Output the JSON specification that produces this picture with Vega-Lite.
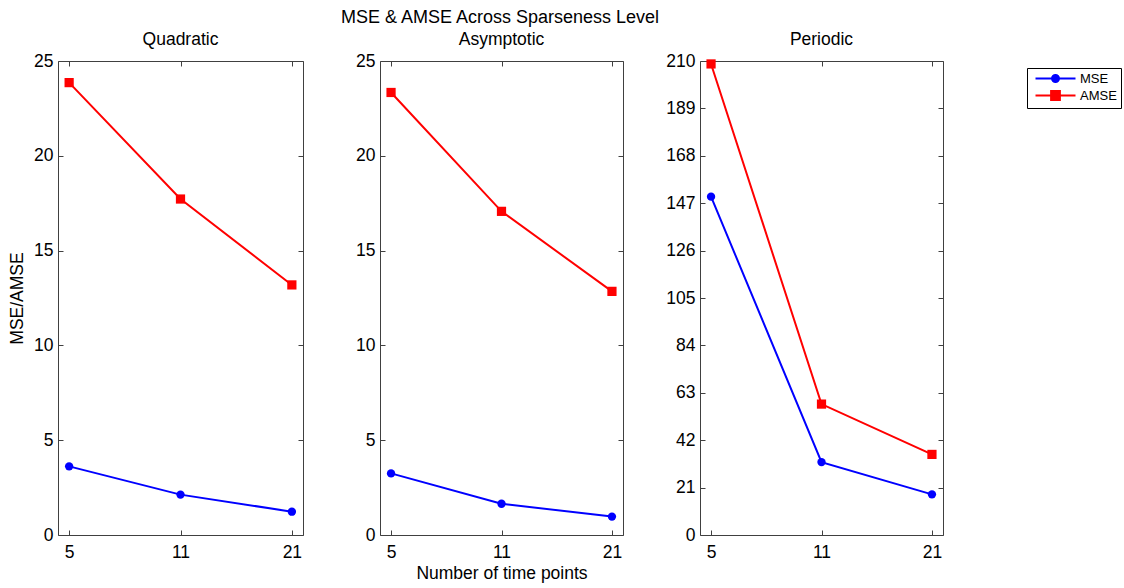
{
  "$schema": "https://vega.github.io/schema/vega-lite/v6.json",
  "padding": {"left": 8, "top": 8, "right": 2, "bottom": 4},
  "background": "white",
  "config": {
    "font": "Liberation Sans",
    "view": {"stroke": null},
    "axis": {
      "grid": false,
      "minExtent": 0,
      "maxExtent": 200,
      "domainColor": "#404040",
      "tickColor": "#404040",
      "domainWidth": 1,
      "tickWidth": 1,
      "tickSize": -5,
      "labelFont": "Liberation Sans",
      "labelFontSize": 17.5,
      "labelColor": "#000",
      "titleFont": "Liberation Sans",
      "titleFontSize": 17.5,
      "titleFontWeight": "normal",
      "titleColor": "#000"
    },
    "title": {"font": "Liberation Sans", "fontWeight": "normal", "color": "#000"}
  },
  "title": {
    "text": "MSE & AMSE Across Sparseness Level",
    "fontSize": 18,
    "anchor": "middle",
    "frame": "group",
    "dx": 442,
    "offset": 4
  },
  "datasets": {
    "errors": [
      {"model": "Quadratic", "points": 5, "series": "MSE", "value": 3.62},
      {"model": "Quadratic", "points": 11, "series": "MSE", "value": 2.13},
      {"model": "Quadratic", "points": 21, "series": "MSE", "value": 1.23},
      {"model": "Quadratic", "points": 5, "series": "AMSE", "value": 23.86},
      {"model": "Quadratic", "points": 11, "series": "AMSE", "value": 17.72},
      {"model": "Quadratic", "points": 21, "series": "AMSE", "value": 13.19},
      {"model": "Asymptotic", "points": 5, "series": "MSE", "value": 3.25},
      {"model": "Asymptotic", "points": 11, "series": "MSE", "value": 1.65},
      {"model": "Asymptotic", "points": 21, "series": "MSE", "value": 0.97},
      {"model": "Asymptotic", "points": 5, "series": "AMSE", "value": 23.34},
      {"model": "Asymptotic", "points": 11, "series": "AMSE", "value": 17.07},
      {"model": "Asymptotic", "points": 21, "series": "AMSE", "value": 12.85},
      {"model": "Periodic", "points": 5, "series": "MSE", "value": 149.9},
      {"model": "Periodic", "points": 11, "series": "MSE", "value": 32.3},
      {"model": "Periodic", "points": 21, "series": "MSE", "value": 18.0},
      {"model": "Periodic", "points": 5, "series": "AMSE", "value": 208.7},
      {"model": "Periodic", "points": 11, "series": "AMSE", "value": 58.0},
      {"model": "Periodic", "points": 21, "series": "AMSE", "value": 35.7}
    ]
  },
  "spacing": 77,
  "bounds": "flush",
  "hconcat": [
    {
      "width": 245,
      "height": 474,
      "title": {"text": "Quadratic", "fontSize": 17.5, "offset": 4},
      "data": {"name": "errors"},
      "transform": [{"filter": "datum.model === 'Quadratic'"}],
      "layer": [
        {
          "mark": {"type": "line", "strokeWidth": 2},
          "encoding": {
            "x": {"field": "points", "type": "ordinal", "sort": [5, 11, 21],
                  "scale": {"type": "point", "padding": 0.1},
                  "axis": {"orient": "bottom", "title": null, "labelAngle": 0, "labelPadding": 13, "minExtent": 0}},
            "y": {"field": "value", "type": "quantitative",
                  "scale": {"domain": [0, 25], "nice": false, "zero": true},
                  "axis": {"orient": "left", "title": "MSE/AMSE", "values": [0, 5, 10, 15, 20, 25], "labelPadding": 10, "titlePadding": 7, "minExtent": 0}},
            "color": {"field": "series", "type": "nominal",
                      "scale": {"domain": ["MSE", "AMSE"], "range": ["#0000ff", "#ff0000"]},
                      "legend": {
                        "title": null,
                        "orient": "none",
                        "legendX": 969,
                        "legendY": 7,
                        "strokeColor": "#000",
                        "fillColor": "#fff",
                        "padding": 4,
                        "labelFont": "Liberation Sans",
                        "labelFontSize": 13,
                        "labelColor": "#000",
                        "labelOffset": 36,
                        "symbolSize": 100,
                        "symbolStrokeWidth": 2,
                        "rowPadding": 1,
                        "encode": {
                          "symbols": {
                            "update": {
                              "shape": {"signal": "datum.value === 'MSE' ? 'M-0.4,0H7.6M2.9,0A0.7,0.7,0,1,0,4.3,0A0.7,0.7,0,1,0,2.9,0Z' : 'M-0.4,0H7.6M2.72,-0.88H4.48V0.88H2.72Z'"},
                              "fill": {"signal": "datum.value === 'MSE' ? '#0000ff' : '#ff0000'"},
                              "stroke": {"signal": "datum.value === 'MSE' ? '#0000ff' : '#ff0000'"},
                              "strokeWidth": {"value": 2}
                            }
                          }
                        }
                      }}
          }
        },
        {
          "transform": [{"filter": "datum.series === 'MSE'"}],
          "mark": {"type": "point", "shape": "circle", "filled": true, "opacity": 1, "size": 70},
          "encoding": {
            "x": {"field": "points", "type": "ordinal", "sort": [5, 11, 21],
                  "axis": {"orient": "top", "title": null, "labels": false, "minExtent": 0}},
            "y": {"field": "value", "type": "quantitative",
                  "axis": {"orient": "right", "title": null, "labels": false, "minExtent": 0, "values": [0, 5, 10, 15, 20, 25]}},
            "color": {"field": "series", "type": "nominal"}
          }
        },
        {
          "transform": [{"filter": "datum.series === 'AMSE'"}],
          "mark": {"type": "point", "shape": "square", "filled": true, "opacity": 1, "size": 85},
          "encoding": {
            "x": {"field": "points", "type": "ordinal", "sort": [5, 11, 21], "axis": null},
            "y": {"field": "value", "type": "quantitative", "axis": null},
            "color": {"field": "series", "type": "nominal"}
          }
        }
      ],
      "resolve": {"axis": {"x": "independent", "y": "independent"}}
    },
    {
      "width": 243,
      "height": 474,
      "title": {"text": "Asymptotic", "fontSize": 17.5, "offset": 4},
      "data": {"name": "errors"},
      "transform": [{"filter": "datum.model === 'Asymptotic'"}],
      "layer": [
        {
          "mark": {"type": "line", "strokeWidth": 2},
          "encoding": {
            "x": {"field": "points", "type": "ordinal", "sort": [5, 11, 21],
                  "scale": {"type": "point", "padding": 0.1},
                  "axis": {"orient": "bottom", "title": "Number of time points", "labelAngle": 0, "labelPadding": 13, "titlePadding": 4, "minExtent": 0}},
            "y": {"field": "value", "type": "quantitative",
                  "scale": {"domain": [0, 25], "nice": false, "zero": true},
                  "axis": {"orient": "left", "title": null, "values": [0, 5, 10, 15, 20, 25], "labelPadding": 10, "minExtent": 0}},
            "color": {"field": "series", "type": "nominal"}
          }
        },
        {
          "transform": [{"filter": "datum.series === 'MSE'"}],
          "mark": {"type": "point", "shape": "circle", "filled": true, "opacity": 1, "size": 70},
          "encoding": {
            "x": {"field": "points", "type": "ordinal", "sort": [5, 11, 21],
                  "axis": {"orient": "top", "title": null, "labels": false, "minExtent": 0}},
            "y": {"field": "value", "type": "quantitative",
                  "axis": {"orient": "right", "title": null, "labels": false, "minExtent": 0, "values": [0, 5, 10, 15, 20, 25]}},
            "color": {"field": "series", "type": "nominal"}
          }
        },
        {
          "transform": [{"filter": "datum.series === 'AMSE'"}],
          "mark": {"type": "point", "shape": "square", "filled": true, "opacity": 1, "size": 85},
          "encoding": {
            "x": {"field": "points", "type": "ordinal", "sort": [5, 11, 21], "axis": null},
            "y": {"field": "value", "type": "quantitative", "axis": null},
            "color": {"field": "series", "type": "nominal"}
          }
        }
      ],
      "resolve": {"axis": {"x": "independent", "y": "independent"}}
    },
    {
      "width": 243,
      "height": 474,
      "title": {"text": "Periodic", "fontSize": 17.5, "offset": 4},
      "data": {"name": "errors"},
      "transform": [{"filter": "datum.model === 'Periodic'"}],
      "layer": [
        {
          "mark": {"type": "line", "strokeWidth": 2},
          "encoding": {
            "x": {"field": "points", "type": "ordinal", "sort": [5, 11, 21],
                  "scale": {"type": "point", "padding": 0.1},
                  "axis": {"orient": "bottom", "title": null, "labelAngle": 0, "labelPadding": 13, "minExtent": 0}},
            "y": {"field": "value", "type": "quantitative",
                  "scale": {"domain": [0, 210], "nice": false, "zero": true},
                  "axis": {"orient": "left", "title": null, "values": [0, 21, 42, 63, 84, 105, 126, 147, 168, 189, 210], "labelPadding": 10, "minExtent": 0}},
            "color": {"field": "series", "type": "nominal"}
          }
        },
        {
          "transform": [{"filter": "datum.series === 'MSE'"}],
          "mark": {"type": "point", "shape": "circle", "filled": true, "opacity": 1, "size": 70},
          "encoding": {
            "x": {"field": "points", "type": "ordinal", "sort": [5, 11, 21],
                  "axis": {"orient": "top", "title": null, "labels": false, "minExtent": 0}},
            "y": {"field": "value", "type": "quantitative",
                  "axis": {"orient": "right", "title": null, "labels": false, "minExtent": 0, "values": [0, 21, 42, 63, 84, 105, 126, 147, 168, 189, 210]}},
            "color": {"field": "series", "type": "nominal"}
          }
        },
        {
          "transform": [{"filter": "datum.series === 'AMSE'"}],
          "mark": {"type": "point", "shape": "square", "filled": true, "opacity": 1, "size": 85},
          "encoding": {
            "x": {"field": "points", "type": "ordinal", "sort": [5, 11, 21], "axis": null},
            "y": {"field": "value", "type": "quantitative", "axis": null},
            "color": {"field": "series", "type": "nominal"}
          }
        }
      ],
      "resolve": {"axis": {"x": "independent", "y": "independent"}}
    }
  ],
  "resolve": {"scale": {"color": "shared"}}
}
